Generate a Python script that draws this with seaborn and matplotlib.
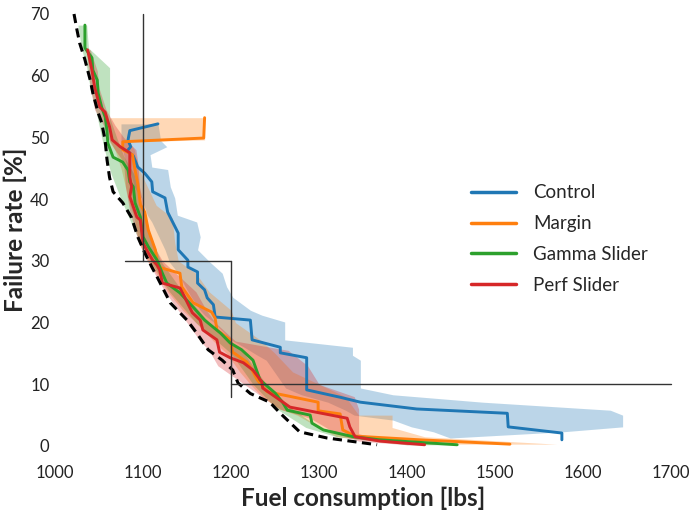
import numpy as np
import pandas as pd
import matplotlib
matplotlib.use("Agg")
import matplotlib.pyplot as plt
import seaborn as sns

# ---------------- data ----------------
methods = ["Control", "Margin", "Gamma Slider", "Perf Slider"]
colors = ["#1f77b4", "#ff7f0e", "#2ca02c", "#d62728"]

control_fuel = [1117, 1085, 1083, 1086, 1082, 1089, 1094, 1102, 1110, 1111, 1125, 1128, 1140, 1140,
                1151, 1151, 1162, 1162, 1170, 1173, 1180, 1182, 1222, 1224, 1256, 1256, 1286, 1286,
                1324, 1347, 1411, 1514, 1515, 1576, 1576]
control_fail = [52.2, 51.1, 49.6, 48.5, 47.8, 47.0, 45.2, 44.2, 42.8, 41.2, 40.2, 37.9, 34.5, 31.8,
                30.1, 29.0, 28.2, 26.4, 25.3, 24.0, 22.9, 20.9, 20.4, 17.2, 16.0, 15.1, 14.3, 9.1,
                7.9, 7.1, 6.0, 5.3, 3.1, 2.1, 1.0]

margin_fuel = [1170, 1169, 1077, 1077, 1088, 1091, 1094, 1097, 1102, 1106, 1114, 1117, 1142, 1144,
               1157, 1178, 1182, 1184, 1199, 1202, 1218, 1224, 1230, 1241, 1299, 1299, 1324, 1327,
               1341, 1415, 1517]
margin_fail = [53.2, 49.9, 49.3, 48.0, 47.2, 44.7, 42.6, 39.1, 37.9, 35.0, 31.8, 29.0, 28.0, 25.8,
               23.2, 21.7, 20.7, 18.8, 17.2, 15.2, 13.6, 12.3, 10.7, 8.8, 7.1, 5.7, 5.2, 2.6,
               1.6, 1.0, 0.3]

gamma_fuel = [1034, 1034, 1042, 1043, 1048, 1049, 1053, 1057, 1059, 1060, 1066, 1077, 1083, 1085,
              1089, 1091, 1097, 1100, 1106, 1116, 1122, 1127, 1142, 1157, 1170, 1188, 1199, 1212,
              1225, 1233, 1250, 1259, 1264, 1290, 1292, 1305, 1339, 1369, 1457]
gamma_fail = [68.2, 64.5, 62.9, 60.9, 59.3, 57.2, 54.9, 53.3, 51.2, 49.1, 46.8, 46.0, 44.7, 42.8,
              42.0, 39.4, 37.1, 33.9, 32.3, 30.1, 28.0, 26.4, 24.8, 22.5, 20.4, 18.3, 16.7, 15.6,
              13.9, 10.7, 8.6, 7.0, 5.8, 5.0, 3.7, 2.6, 1.5, 1.0, 0.2]

perf_fuel = [1037, 1042, 1045, 1051, 1057, 1062, 1065, 1074, 1085, 1085, 1085, 1087, 1085, 1093,
             1097, 1100, 1106, 1111, 1116, 1119, 1122, 1142, 1145, 1156, 1165, 1168, 1184, 1187,
             1199, 1214, 1225, 1235, 1236, 1247, 1267, 1303, 1332, 1335, 1341, 1369, 1420]
perf_fail = [64.2, 60.9, 58.2, 54.9, 54.1, 51.7, 49.6, 48.5, 47.5, 45.2, 43.6, 42.0, 40.4, 37.1,
             36.6, 32.9, 31.3, 30.1, 29.3, 28.5, 26.4, 25.6, 24.8, 21.6, 20.4, 18.8, 17.2, 15.2,
             14.3, 13.5, 12.3, 10.4, 9.4, 8.3, 6.3, 5.3, 4.5, 3.1, 1.5, 0.8, 0.2]

optimal_fuel = [1021.6, 1025, 1028, 1034, 1040, 1043, 1049, 1053, 1057, 1059, 1062, 1066, 1077, 1087,
                1094, 1102, 1110, 1116, 1131, 1150, 1161, 1174, 1190, 1202, 1208, 1222, 1244, 1256,
                1278, 1309, 1366]
optimal_fail = [70, 67.4, 65.3, 62.6, 59.3, 57.2, 54.0, 52.4, 49.5, 46.5, 43.5, 41.2, 39.4, 37.0,
                33.9, 31.3, 29.0, 27.4, 23.2, 20.4, 18.3, 15.6, 13.9, 12.3, 10.2, 8.5, 7.1, 5.3,
                2.3, 1.3, 0.2]

# bands (fuel range per failure level)
control_band_y = [52.2, 49.5, 48.5, 47.2, 45.2, 44.8, 42, 40.2, 37.4, 36.3, 33.9, 31.8, 29.8, 28,
                  25.8, 24.1, 22, 21.2, 20.1, 17.2, 16, 14.7, 13.9, 9.4, 8.3, 7.1, 5.8, 5, 4.2, 3.1, 2.3, 1.3]
control_band_hi = [1117, 1120, 1127, 1108, 1110, 1128, 1131, 1136, 1139, 1161, 1165, 1162, 1176, 1190,
                   1195, 1202, 1222, 1235, 1261, 1261, 1338, 1338, 1347, 1347, 1384, 1486, 1631, 1645, 1645,
                   1645, 1577, 1450]
control_band_lo = [1075, 1075, 1076, 1078, 1082, 1085, 1090, 1098, 1105, 1110, 1118, 1125, 1130, 1140,
                   1148, 1155, 1165, 1170, 1180, 1200, 1215, 1230, 1240, 1262, 1280, 1310, 1330, 1340, 1384,
                   1405, 1430, 1449]

margin_band_y = [53.2, 49.6, 49.3, 48, 45, 42, 39, 37, 33, 30, 28, 25, 22, 20, 17, 15, 12, 10, 8, 6,
                 5.01, 5, 3, 1.5, 0.3]
margin_band_hi = [1170, 1170, 1085, 1090, 1095, 1105, 1115, 1133, 1136, 1140, 1160, 1175, 1200, 1205,
                  1235, 1250, 1270, 1300, 1330, 1340, 1345, 1383, 1383, 1420, 1570]
margin_band_lo = [1062, 1062, 1062, 1068, 1075, 1080, 1085, 1090, 1095, 1105, 1115, 1128, 1145, 1160,
                  1180, 1195, 1210, 1222, 1235, 1255, 1275, 1275, 1300, 1320, 1400]

gamma_band_y = [68.2, 64.5, 61.3, 58, 53.3, 50, 47, 44, 40, 35, 30, 25, 20, 15, 10, 6, 3, 1.5, 0.2]
gamma_band_lo = [1026, 1030, 1036, 1040, 1048, 1053, 1058, 1064, 1075, 1090, 1108, 1130, 1160, 1200,
                 1225, 1252, 1285, 1320, 1400]
gamma_band_hi = [1036, 1038, 1062, 1062, 1062, 1070, 1078, 1090, 1097, 1106, 1120, 1145, 1175, 1215,
                 1240, 1270, 1300, 1345, 1460]

perf_band_y = [64.2, 60.8, 58, 54.5, 52, 50, 48, 46, 42, 38, 33, 30, 25, 22, 20, 17, 15.5, 13, 10, 8,
               6, 4.5, 2, 0.8, 0.2]
perf_band_hi = [1040, 1048, 1050, 1058, 1068, 1078, 1092, 1094, 1096, 1102, 1110, 1122, 1160, 1172,
                1182, 1205, 1265, 1287, 1300, 1340, 1345, 1345, 1345, 1380, 1420]
perf_band_lo = [1036, 1038, 1040, 1045, 1055, 1060, 1068, 1078, 1080, 1085, 1095, 1105, 1125, 1140,
                1150, 1165, 1175, 1185, 1215, 1235, 1255, 1290, 1320, 1345, 1400]

# threshold guide lines (fuel, failure)
guide_fuel = [[1100, 1100], [1080, 1200], [1200, 1200], [1200, 1700]]
guide_fail = [[70, 30], [30, 30], [30, 8], [10, 10]]

x_ticks = [1000, 1100, 1200, 1300, 1400, 1500, 1600, 1700]
y_ticks = [0, 10, 20, 30, 40, 50, 60, 70]

# ---------------- plot ----------------
sns.set_style("white")
plt.rcParams["font.family"] = ["Lato", "DejaVu Sans"]

fig = plt.figure(figsize=(6.91, 5.13), dpi=100)
ax = fig.add_axes([55 / 691, 1 - 446 / 513, (671 - 55) / 691, (446 - 14) / 513])

bands = [
    (control_band_y, control_band_lo, control_band_hi),
    (margin_band_y, margin_band_lo, margin_band_hi),
    (gamma_band_y, gamma_band_lo, gamma_band_hi),
    (perf_band_y, perf_band_lo, perf_band_hi),
]
for (by, blo, bhi), c in zip(bands, colors):
    ax.fill_betweenx(by, blo, bhi, color=c, alpha=0.3, linewidth=0, zorder=1)

frames = []
for m, f, r in zip(methods,
                   [control_fuel, margin_fuel, gamma_fuel, perf_fuel],
                   [control_fail, margin_fail, gamma_fail, perf_fail]):
    frames.append(pd.DataFrame({"fuel": f, "failure": r, "method": m}))
df = pd.concat(frames, ignore_index=True)

sns.lineplot(data=df, x="fuel", y="failure", hue="method", hue_order=methods,
             palette=colors, estimator=None, sort=False, linewidth=2.1, ax=ax, zorder=3)

opt = pd.DataFrame({"fuel": optimal_fuel, "failure": optimal_fail})
sns.lineplot(data=opt, x="fuel", y="failure", estimator=None, sort=False, color="black",
             linewidth=2.2, dashes=False, ax=ax, zorder=4, legend=False)
ax.lines[-1].set_dashes((3, 1.8))

for gx, gy in zip(guide_fuel, guide_fail):
    ax.plot(gx, gy, color="#333333", linewidth=1.0, zorder=5)

for ln in ax.lines:
    ln.set_clip_on(False)

ax.set_xlim(1000, 1700)
ax.set_ylim(0, 70)
ax.set_xticks(x_ticks)
ax.set_yticks(y_ticks)
ax.tick_params(axis="both", length=0, labelsize=12, colors="#222222")
ax.tick_params(axis="x", pad=14)
ax.tick_params(axis="y", pad=4)
sns.despine(ax=ax, left=True, bottom=True)

ax.set_xlabel("Fuel consumption [lbs]", fontsize=17.5, fontweight="bold", labelpad=4)
ax.set_ylabel("Failure rate [%]", fontsize=17.5, fontweight="bold", labelpad=2)

leg = ax.legend(loc="upper left", bbox_to_anchor=(463 / 691, 1 - 177 / 513),
                bbox_transform=fig.transFigure, frameon=False, fontsize=13.5,
                handlelength=2.4, handletextpad=0.95, labelspacing=0.73, borderaxespad=0)
for h in leg.legend_handles:
    h.set_linewidth(2.5)

fig.savefig("out.png", dpi=100)
